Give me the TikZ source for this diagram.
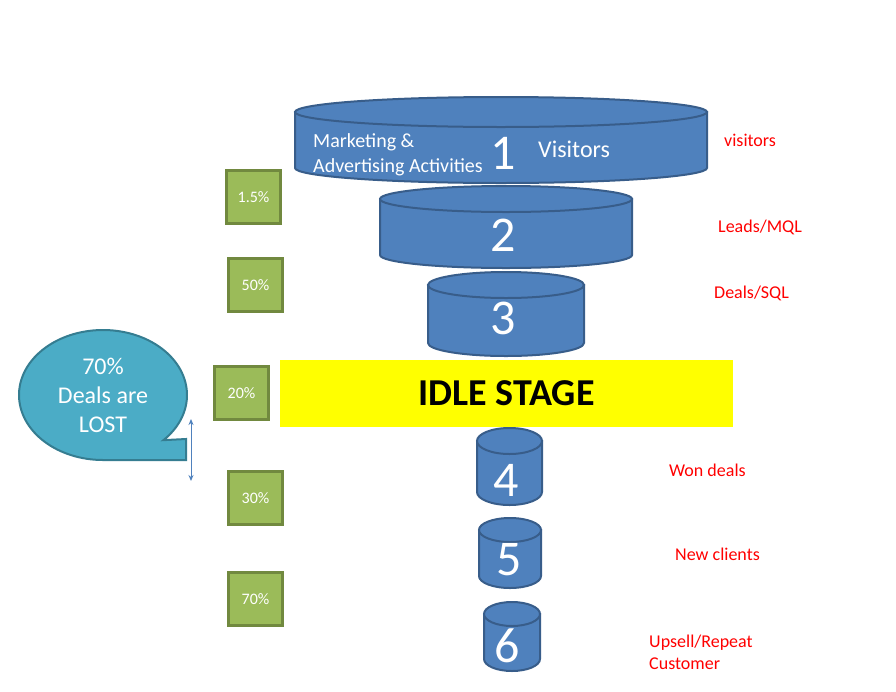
\documentclass[tikz,border=0pt]{standalone}
\usepackage{fontspec}
\setmainfont{Carlito}
\usetikzlibrary{arrows.meta}
\definecolor{cylblue}{HTML}{4F81BD}
\definecolor{cylborder}{HTML}{385D8A}
\definecolor{boxgreen}{HTML}{9BBB59}
\definecolor{boxborder}{HTML}{71893F}
\definecolor{bubble}{HTML}{4BACC6}
\definecolor{bubbleborder}{HTML}{357D91}
\definecolor{labelred}{HTML}{FF0000}
\definecolor{idleyellow}{HTML}{FFFF00}
\tikzset{
  cylstyle/.style={fill=cylblue,draw=cylborder,line width=2pt},
  numtxt/.style={text=white,font=\fontsize{50}{50}\selectfont,inner sep=0pt},
  whitetxt/.style={text=white,inner sep=0pt},
  redlabel/.style={text=labelred,font=\fontsize{18}{22}\selectfont,inner sep=0pt,anchor=west,align=left},
  pctbox/.style={fill=boxgreen,draw=boxborder,line width=2.5pt,minimum width=54pt,minimum height=53pt,inner sep=0pt,text=white,font=\fontsize{16}{16}\selectfont},
  callout/.style={fill=bubble,draw=bubbleborder,line width=2pt},
}
\newcommand\funnelcyl[6]{%
  \pgfmathsetmacro\cylcx{(#1+#2)/2}%
  \pgfmathsetmacro\cylrx{(#2-#1)/2}%
  \path[cylstyle] (#1,-#3) -- (#1,-#4) arc[start angle=180,end angle=360,x radius=\cylrx,y radius=#5] -- (#2,-#3) -- cycle;
  \path[cylstyle] (\cylcx,-#3) ellipse[x radius=\cylrx,y radius=#5];
  \coordinate (#6) at (\cylcx,{-(#3+#4)/2});
}
\begin{document}
\begin{tikzpicture}[x=1pt,y=1pt]
\useasboundingbox[fill=white] (0,0) rectangle (896,-691);

% cylinders
\funnelcyl{295}{707}{112}{168}{15}{c1}
\funnelcyl{380}{632}{199}{255}{13}{c2}
\funnelcyl{428}{584}{285}{343}{13}{c3}
\funnelcyl{477}{542}{441}{492}{13}{c4}
\funnelcyl{479}{541}{530}{576}{12}{c5}
\funnelcyl{484}{540}{614}{659}{12}{c6}

% cylinder texts
\node[whitetxt,anchor=west,align=left,font=\fontsize{20}{25}\selectfont] (mkt) at (313,-155) {Marketing \&\\Advertising Activities};
\node[numtxt] (n1) at (503,-153) {1};
\node[whitetxt,anchor=west,font=\fontsize{24}{24}\selectfont] (vis) at (538,-149) {Visitors};
\node[numtxt] (n2) at (503,-235) {2};
\node[numtxt] (n3) at (503,-318) {3};
\node[numtxt] (n4) at (506,-480) {4};
\node[numtxt] (n5) at (509,-560) {5};
\node[numtxt] (n6) at (507,-646) {6};

% idle stage
\node[fill=idleyellow,minimum width=453pt,minimum height=67pt,inner sep=0pt,font=\bfseries\fontsize{38}{38}\selectfont] (idle) at (506.5,-393.5) {IDLE STAGE};

% percentage boxes
\node[pctbox] (p1) at (253.5,-197) {1.5\%};
\node[pctbox] (p2) at (255.5,-285) {50\%};
\node[pctbox] (p3) at (241.5,-393) {20\%};
\node[pctbox] (p4) at (255.5,-498) {30\%};
\node[pctbox] (p5) at (255.5,-599) {70\%};

% red labels
\node[redlabel] (l1) at (724,-140) {visitors};
\node[redlabel] (l2) at (718,-227) {Leads/MQL};
\node[redlabel] (l3) at (714,-293) {Deals/SQL};
\node[redlabel] (l4) at (669,-470) {Won deals};
\node[redlabel] (l5) at (675,-554) {New clients};
\node[redlabel] (l6) at (649,-652) {Upsell/Repeat\\Customer};

% callout
\path[callout] ([shift={(-44:84 and 65)}]103,-395) arc[start angle=-44,end angle=270,x radius=84,y radius=65] -- (186,-460) -- (186,-439) -- cycle;
\node[whitetxt,align=center,font=\fontsize{24}{29}\selectfont] (lost) at (103,-395) {70\%\\Deals are\\LOST};

% double arrow
\coordinate (atop) at (191,-419);
\coordinate (abot) at (191,-481);
\draw[cylblue,line width=1pt,{Stealth[length=6pt,width=5pt]}-{Stealth[length=6pt,width=5pt]}] (atop) -- (abot);
\end{tikzpicture}
\end{document}
